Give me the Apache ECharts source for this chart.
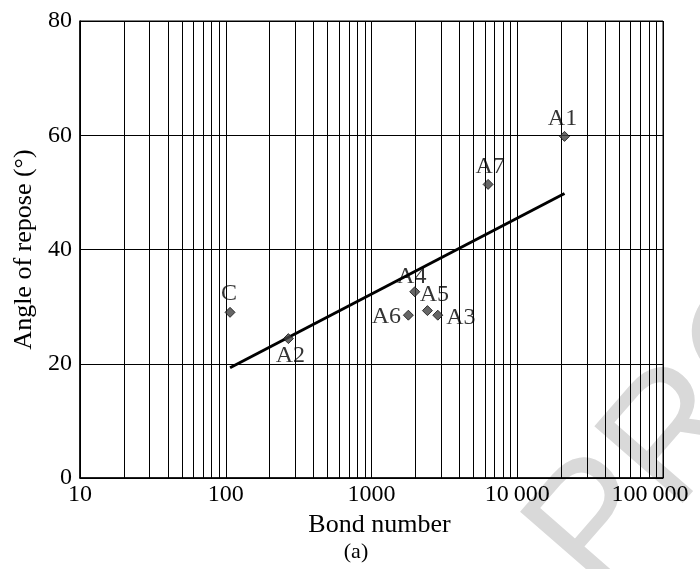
<!DOCTYPE html>
<html>
<head>
<meta charset="utf-8">
<script src="https://cdn.jsdelivr.net/npm/echarts@6/dist/echarts.min.js"></script>
<style>
html,body{margin:0;padding:0;background:#fff;}
#chart{width:700px;height:569px;}
</style>
</head>
<body>
<div id="chart"></div>
<script>
// ---- data ----
var pointNames = ['C', 'A2', 'A4', 'A6', 'A5', 'A3', 'A7', 'A1'];
var bondNumber = [107, 269, 1980, 1790, 2420, 2850, 6310, 21100];
var angleOfRepose = [29.0, 24.4, 32.6, 28.5, 29.3, 28.5, 51.4, 59.8];
var trendX = [107, 21100];
var trendY = [19.3, 49.8];
var xTickLabels = ['10', '100', '1000', '10\u2009000', '100\u2009000'];
var minorGridX = [20, 30, 40, 50, 60, 70, 80, 90,
                  200, 300, 400, 500, 600, 700, 800, 900,
                  2000, 3000, 4000, 5000, 6000, 7000, 8000, 9000,
                  20000, 30000, 40000, 50000, 60000, 70000, 80000, 90000];

// ---- label placement (style, not data) ----
var labelOffsets = {
  'C': [-1, -19], 'A2': [2, 17], 'A4': [-3, -15], 'A5': [7, -16],
  'A6': [-22, 2], 'A3': [23, 3], 'A7': [2, -18], 'A1': [-2, -18]
};

var FONT = 'Liberation Serif';
var chart = echarts.init(document.getElementById('chart'), null, {renderer: 'canvas'});

var scatterData = pointNames.map(function (n, i) {
  return {
    name: n,
    value: [bondNumber[i], angleOfRepose[i]],
    label: {
      show: true, position: 'inside', offset: labelOffsets[n],
      formatter: n, color: '#000', fontFamily: FONT, fontSize: 24
    }
  };
});

var option = {
  animation: false,
  backgroundColor: '#fff',
  grid: {left: 80, top: 21, right: 37, bottom: 91, show: true, borderColor: '#000', borderWidth: 1},
  xAxis: {
    type: 'log', logBase: 10, min: 10, max: 100000,
    name: 'Bond number', nameLocation: 'middle', nameGap: 34,
    nameTextStyle: {fontFamily: FONT, fontSize: 26, color: '#000', padding: [0, 0, 0, 16]},
    axisLine: {show: true, lineStyle: {color: '#000', width: 1.5}},
    axisTick: {show: false},
    axisLabel: {
      fontFamily: FONT, fontSize: 24, color: '#000', margin: 5,
      formatter: function (v) {
        var i = Math.round(Math.log10(v)) - 1;
        var t = xTickLabels[i];
        return i === xTickLabels.length - 1 ? '{last|' + t + '}' : t;
      },
      rich: {last: {fontFamily: FONT, fontSize: 24, color: '#000', padding: [0, 26, 0, 0]}}
    },
    splitLine: {show: true, lineStyle: {color: '#000', width: 1}}
  },
  yAxis: {
    type: 'value', min: 0, max: 80, interval: 20,
    name: 'Angle of repose (°)', nameLocation: 'middle', nameGap: 37,
    nameTextStyle: {fontFamily: FONT, fontSize: 26, color: '#000'},
    axisLine: {show: true, lineStyle: {color: '#000', width: 1.5}},
    axisTick: {show: false},
    axisLabel: {fontFamily: FONT, fontSize: 24, color: '#000', margin: 8},
    splitLine: {show: true, lineStyle: {color: '#000', width: 1}}
  },
  graphic: [
    {
      type: 'text', z: -10, x: 628, y: 624, rotation: 49 * Math.PI / 180,
      style: {text: 'PROOF', fontFamily: 'Liberation Sans', fontSize: 170,
              fill: '#d9d9d9', textAlign: 'left', textVerticalAlign: 'bottom'}
    },
    {
      type: 'text', x: 356, y: 552,
      style: {text: '(a)', fontFamily: FONT, fontSize: 22, fill: '#000',
              textAlign: 'center', textVerticalAlign: 'middle'}
    }
  ],
  series: [
    {
      type: 'line', name: 'grid', data: [],
      markLine: {
        silent: true, symbol: 'none', animation: false,
        label: {show: false},
        lineStyle: {color: '#000', width: 1, type: 'solid'},
        data: minorGridX.map(function (v) { return {xAxis: v}; })
      }
    },
    {
      type: 'line', name: 'trend', z: 5,
      data: trendX.map(function (x, i) { return [x, trendY[i]]; }),
      showSymbol: false, symbol: 'none',
      lineStyle: {color: '#000', width: 3}
    },
    {
      type: 'scatter', name: 'points', z: 6,
      symbol: 'diamond', symbolSize: 10,
      itemStyle: {color: '#404040', borderColor: '#111', borderWidth: 1},
      data: scatterData
    }
  ]
};
chart.setOption(option);
</script>
</body>
</html>
